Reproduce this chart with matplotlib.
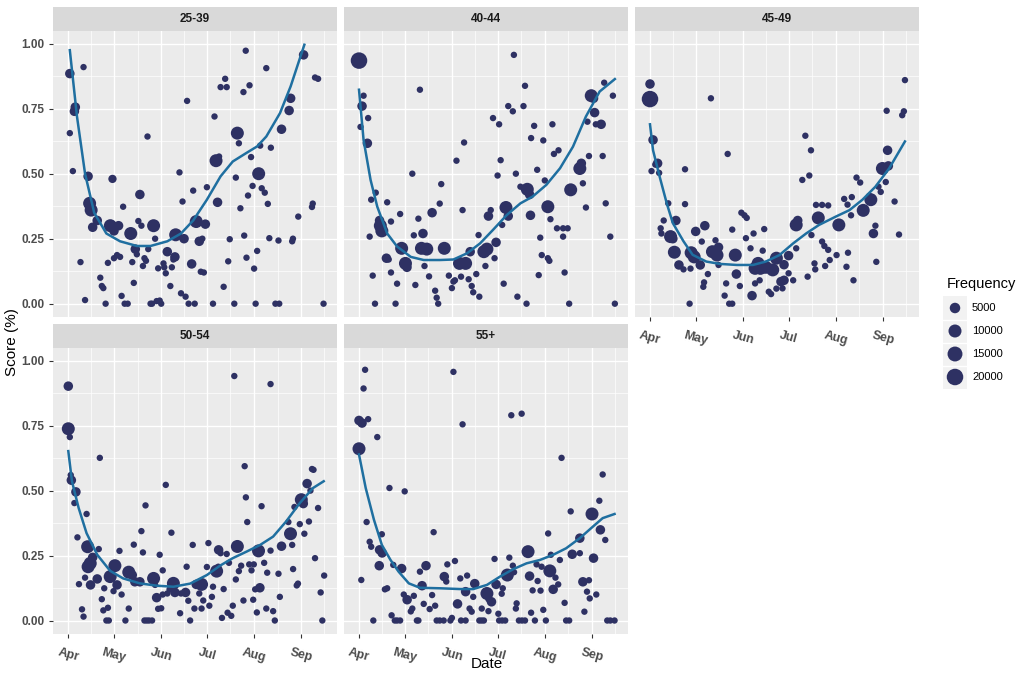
import matplotlib
matplotlib.use("Agg")
import matplotlib.pyplot as plt
import numpy as np

plt.rcParams['font.family'] = ['Liberation Sans', 'DejaVu Sans']

# days since 1 April, score (0-1), frequency
days_2539 = [1, 1, 3, 4, 4.6, 10, 8, 11, 13, 14, 15, 14.5, 16, 19, 21, 22, 23, 24.5, 26, 27.6, 29, 30, 33, 30, 32, 34, 35, 36, 37, 39,
             41, 42, 43, 44, 45, 46, 48, 47, 49, 50, 51, 52, 52.5, 54, 55, 56, 57, 58, 60, 61, 59, 63, 62.5, 64, 65, 67, 68, 69, 70, 70.5,
             73, 74, 75, 76, 77, 78, 79, 83, 81, 82, 84, 86, 88, 87, 89, 90, 91, 95, 96, 97, 99, 98, 100, 103, 104, 102, 105, 106, 109,
             110, 111, 112, 113, 115, 115.5, 116.5, 117, 118, 119, 120, 121, 122, 123, 124, 125, 126, 127, 129, 130, 131, 132, 133,
             136, 138.5, 138, 140, 145, 146, 147, 147.5, 151, 154.5, 160, 160.5, 162, 164, 167.6]
score_2539 = [0.885, 0.656, 0.51, 0.74, 0.756, 0.91, 0.16, 0.014, 0.49, 0.386, 0.36, 0.37, 0.294, 0.32, 0.10, 0.068, 0.06, 0, 0.157, 0.30,
              0.48, 0.28, 0.30, 0.175, 0.187, 0.18, 0.03, 0.373, 0, 0, 0.27, 0.16, 0.08, 0.21, 0.19, 0.318, 0.30, 0.42, 0.145, 0.175,
              0.165, 0.643, 0.21, 0, 0, 0.30, 0.25, 0.01, 0.012, 0, 0.136, 0.14, 0.155, 0.117, 0.2, 0.068, 0.14, 0.17, 0.18, 0.265,
              0.505, 0.04, 0.393, 0.25, 0.027, 0.78, 0, 0, 0.153, 0.435, 0.316, 0.24, 0.25, 0.123, 0.12, 0.306, 0.448, 0, 0.72, 0.55,
              0.566, 0.39, 0.833, 0.865, 0.833, 0.065, 0.163, 0.248, 0, 0.485, 0.656, 0.617, 0.367, 0.814, 0.262, 0.973, 0.177,
              0.416, 0.84, 0.564, 0.453, 0.135, 0, 0.203, 0.50, 0.608, 0.444, 0.427, 0.906, 0.384, 0.252, 0.6, 0, 0, 0.243, 0.671,
              0.743, 0.79, 0.24, 0.25, 0.335, 0.957, 0.372, 0.385, 0.87, 0.865, 0]
freq_2539 = [3500, 500, 500, 3500, 3500, 500, 500, 500, 3500, 10000, 10000, 3500, 3500, 3500, 500, 500, 500, 500, 500, 10000,
             2000, 3500, 3500, 500, 500, 500, 500, 500, 500, 500, 10000, 500, 500, 3500, 500, 500, 500, 3500, 500, 500,
             500, 500, 500, 500, 500, 10000, 500, 500, 500, 500, 500, 500, 500, 500, 3500, 500, 500, 500, 3500, 10000,
             500, 500, 500, 3500, 500, 500, 500, 500, 3500, 500, 10000, 3500, 500, 500, 500, 3500, 500, 500, 500, 10000,
             500, 3500, 500, 500, 500, 500, 500, 500, 500, 500, 10000, 500, 500, 500, 500, 500, 500,
             500, 500, 500, 500, 500, 500, 500, 10000, 500, 500, 500, 500, 500, 500, 500, 500, 500, 500, 3500,
             3500, 3500, 500, 500, 500, 3500, 500, 500, 500, 500, 500]

days_4044 = [0, 3, 2, 6, 1, 5.5, 11, 8, 7, 18.5, 14, 15, 13.5, 21, 9, 10.5, 24, 21, 25, 18, 19.5, 27, 28, 30.5, 31.5, 35, 36, 37, 39, 40,
             41, 44.5, 42, 43, 46, 48, 50, 51, 52, 53, 54, 56, 59, 61, 62, 63, 64, 66, 70, 68, 69, 67, 72, 73, 74, 75, 77, 79, 78.5,
             83, 82, 84, 85, 86.5, 88, 89, 90, 91, 92, 93, 94, 95, 96.5, 98, 98, 101, 101.7, 103, 104, 106, 108, 109, 110.5, 112, 110,
             112.6, 113, 115, 117, 118, 119, 120, 124, 125, 121, 122, 124, 125.7, 127, 128, 131, 130, 134, 137, 134, 135, 138, 139,
             145, 146, 147, 149, 150, 151, 152.5, 154, 154.7, 159, 155.5, 160, 161, 162, 165, 166.7, 168]
score_4044 = [0.935, 0.80, 0.76, 0.714, 0.68, 0.617, 0.427, 0.40, 0.258, 0.39, 0.30, 0.28, 0.32, 0.316, 0.108, 0, 0, 0.12, 0.077, 0.175,
              0.17, 0.345, 0.213, 0.155, 0.14, 0.5, 0.263, 0.072, 0.327, 0.823, 0.213, 0.21, 0.27, 0.145, 0.105, 0.35, 0.05, 0.023,
              0, 0.385, 0.46, 0.213, 0.108, 0.06, 0.085, 0.09, 0.55, 0.155, 0.155, 0.36, 0.62, 0.104, 0.094, 0.2, 0.068, 0.044, 0.114,
              0.027, 0.264, 0.145, 0.2, 0.21, 0.337, 0.36, 0.714, 0.175, 0.236, 0.493, 0.69, 0.552, 0.303, 0.077, 0.37, 0.337, 0.76,
              0.74, 0.957, 0.50, 0.027, 0.45, 0.76, 0.838, 0.44, 0.42, 0, 0.34, 0.637, 0.684, 0.515, 0.11, 0.254, 0.187, 0.175, 0.165,
              0.628, 0.474, 0.373, 0.325, 0.69, 0.576, 0.59, 0.29, 0.29, 0.29, 0.258, 0.12, 0, 0.438, 0.52, 0.54, 0.463, 0.37, 0.70,
              0.568, 0.80, 0.79, 0.735, 0.69, 0.69, 0.568, 0.85, 0.386, 0.258, 0.80, 0]
freq_4044 = [20000, 500, 3500, 500, 500, 3500, 500, 500, 500, 500, 10000, 10000, 3500, 500, 500, 500, 500, 500, 500, 3500,
             500, 500, 10000, 10000, 3500, 500, 500, 500, 500, 500, 10000, 10000, 3500, 500, 500, 3500, 500, 500, 500, 500,
             500, 10000, 500, 500, 500, 500, 500, 10000, 10000, 500, 500, 500, 500, 3500, 500, 500, 500, 500, 500,
             500, 10000, 10000, 3500, 500, 500, 500, 3500, 500, 500, 500, 500, 500, 10000, 3500, 500, 500, 500, 500, 500, 500, 500,
             500, 10000, 3500, 500, 3500, 500, 500, 500, 500, 500, 500, 500, 500, 500, 500, 10000, 500, 500, 500, 500, 500, 500,
             500, 500, 500, 500, 10000, 10000, 3500, 500, 500, 500, 500, 10000, 3500, 3500, 3500, 500, 500, 500, 500, 500, 500, 500]

days_4549 = [0, 0, 2, 5, 3.5, 1, 6, 12, 9, 7, 7.5, 17, 13.5, 15, 16, 19, 22, 23, 23, 26.6, 26, 27, 29, 33, 30, 34, 36, 35.5, 35, 38, 40,
             41, 44, 43, 45, 45, 49, 50, 51, 52, 54, 54, 56, 56.7, 59, 60, 62, 63.5, 63, 66, 67, 68, 69, 72.5, 76, 71, 69, 72, 74,
             75, 78, 79.5, 80.6, 83, 83, 87, 86, 88, 88, 91, 91, 94, 96, 96, 97, 100, 102, 103.5, 104.6, 105.7, 106, 108, 108.5,
             110.5, 109, 113, 117, 113, 114.5, 117, 115, 118, 122.5, 124, 127.5, 129.7, 129, 130, 132, 132.5, 133.6, 135.6, 138,
             140, 145, 144, 148.6, 146.7, 148, 150, 151.5, 152.6, 156.5, 154.8, 156, 155.4, 160.6, 163.5, 165.6, 166.7, 167.4]
score_4549 = [0.787, 0.845, 0.63, 0.54, 0.535, 0.51, 0.503, 0.386, 0.32, 0.29, 0.27, 0.32, 0.258, 0.25, 0.198, 0.149, 0.132, 0.517,
              0.383, 0.135, 0, 0.196, 0.18, 0.149, 0.278, 0.239, 0.30, 0.082, 0.065, 0.114, 0.79, 0.2, 0.187, 0.244, 0.217, 0.149,
              0.031, 0.078, 0.576, 0, 0, 0.285, 0.187, 0.114, 0.068, 0.35, 0.34, 0.33, 0.252, 0.213, 0.031, 0.27, 0.136, 0.136,
              0.14, 0.155, 0.078, 0.09, 0.204, 0.287, 0.046, 0.037, 0.13, 0.175, 0.058, 0.059, 0.085, 0.09, 0.15, 0.185, 0.117,
              0.09, 0.213, 0.303, 0.32, 0.476, 0.646, 0.104, 0.493, 0.59, 0.264, 0.155, 0.132, 0.33, 0.38, 0.38, 0.378, 0.239,
              0.222, 0.207, 0.145, 0.168, 0.187, 0.303, 0.403, 0.381, 0.142, 0.196, 0.34, 0.41, 0.09, 0.485, 0.466, 0.359, 0.40,
              0.415, 0.161, 0.27, 0.30, 0.45, 0.43, 0.52, 0.53, 0.468, 0.59, 0.742, 0.393, 0.266, 0.725, 0.74, 0.86]
freq_4549 = [20000, 3500, 3500, 3500, 500, 500, 500, 500, 500, 500, 500, 3500, 10000, 3500, 10000, 3500, 500, 500, 500, 500,
             500, 10000, 10000, 3500, 3500, 500, 3500, 500, 500, 500, 500, 10000, 10000, 500, 3500, 500, 500, 500, 500, 500,
             500, 500, 10000, 3500, 500, 500, 500, 500, 500, 500, 3500, 500, 10000, 10000, 10000, 10000, 500, 500, 500,
             500, 500, 500, 10000, 10000, 500, 500, 3500, 3500, 3500, 3500, 500, 500, 500, 10000, 3500, 500, 500, 500, 500,
             500, 500, 500, 500, 10000, 500, 500, 500, 500, 500, 500, 500, 500, 500, 10000, 500, 500, 500, 500, 500, 500, 500,
             500, 500, 10000, 10000, 500, 500, 3500, 500, 500, 500, 10000, 3500, 500, 3500, 500, 500, 500, 500, 500, 500]

days_5054 = [0, 0, 1, 2, 1.6, 5, 4, 12, 6, 7, 9, 10, 12.7, 14.4, 13, 16, 11, 14.6, 19, 20, 20.7, 22, 23, 26, 23.6, 25, 26.6, 27.5,
             30.6, 29.7, 32, 33.6, 35, 37.5, 39.7, 42, 43.7, 39.7, 43, 47, 48, 49, 50.7, 50, 51.5, 53, 55, 56, 57, 58, 60, 59, 61,
             62, 64, 62, 65, 67.7, 69, 70, 66.5, 73.4, 74, 77, 77.7, 78.8, 80, 81.7, 82.8, 84, 87.5, 86, 87.5, 88.6, 91, 92, 92.6,
             94.3, 95, 97.4, 98.5, 98.7, 100, 100.9, 102, 104, 104.6, 107, 105.5, 109, 108, 111, 110, 112, 113.5, 115, 115.8,
             116.6, 117.5, 118.8, 120.3, 121.8, 121.4, 123.8, 122.7, 124.9, 126.9, 125.8, 128.6, 130, 130.6, 132.8, 132.8, 134.5,
             135.6, 138, 138.9, 140, 144.5, 145.9, 147, 147.6, 148.5, 150, 150.8, 152, 153, 154.3, 155, 156.8, 158, 159, 160,
             161, 162, 164, 165.7, 166.8, 168]
score_5054 = [0.902, 0.738, 0.706, 0.54, 0.56, 0.495, 0.452, 0.41, 0.32, 0.14, 0.043, 0.015, 0.284, 0.22, 0.207, 0.243, 0.165,
              0.137, 0.16, 0.275, 0.626, 0.082, 0.039, 0.049, 0.124, 0, 0, 0.169, 0.211, 0.113, 0.137, 0.268, 0.1, 0, 0.186, 0.175,
              0.149, 0.046, 0.292, 0.149, 0.344, 0.262, 0.443, 0, 0, 0, 0, 0.162, 0.137, 0.088, 0.253, 0.045, 0.047, 0.193, 0.522,
              0.1, 0.104, 0.338, 0.143, 0.108, 0.12, 0.028, 0.104, 0.108, 0.207, 0.076, 0, 0.291, 0.046, 0.139, 0.139, 0.104,
              0.046, 0.077, 0.206, 0.298, 0.057, 0.091, 0.13, 0.19, 0.207, 0.272, 0.259, 0.01, 0.121, 0.256, 0.03, 0.018, 0.222,
              0.941, 0.057, 0.285, 0.158, 0.19, 0.211, 0.077, 0.594, 0.474, 0.379, 0.216, 0.193, 0.216, 0.08, 0.031, 0.12, 0.268,
              0.44, 0.126, 0.222, 0.046, 0.184, 0.91, 0.269, 0.036, 0, 0.18, 0.091, 0.286, 0.379, 0.334, 0.291, 0.198, 0.437,
              0.135, 0.142, 0.371, 0.465, 0.45, 0.334, 0.527, 0.381, 0.5, 0.583, 0.58, 0.24, 0.433, 0.108, 0, 0.173]
freq_5054 = [3500, 10000, 500, 3500, 500, 3500, 500, 500, 500, 500, 500, 500, 10000, 10000, 10000, 3500, 500, 3500, 3500, 500, 500,
             500, 500, 500, 500, 500, 500, 10000, 10000, 500, 3500, 500, 500, 500, 10000, 3500, 3500, 500, 500, 3500, 500, 500,
             500, 500, 500, 500, 500, 10000, 500, 3500, 500, 500, 500, 500, 500, 500, 500, 500, 10000, 3500, 500, 500, 500, 3500,
             500, 500, 500, 500, 500, 3500, 10000, 500, 500, 500, 500, 500, 500, 500, 500, 10000, 500, 3500, 500, 500, 500, 500,
             500, 500, 500, 500, 500, 10000, 500, 500, 500, 500, 500, 500, 500, 500, 500, 500, 500, 500, 500, 10000, 500,
             3500, 500, 500, 500, 500, 500, 500, 500, 500, 500, 3500, 500, 10000, 500, 500, 500, 500, 500, 500, 10000, 3500, 500,
             3500, 500, 500, 500, 500, 500, 500, 500, 500, 500]

days_55 = [0, 0, 2, 6, 3, 4, 12, 5, 1.5, 7, 8, 9.4, 13.5, 15.2, 15, 13.3, 17, 18.5, 20, 21.4, 22.5, 23.5, 25, 27, 28, 30, 29.4,
           31.6, 34, 35, 36, 38, 39, 40, 41.4, 42.5, 44, 46.4, 48, 49, 50, 51, 53, 55.6, 56, 57.3, 58, 60, 61, 62, 63, 64.7,
           66.5, 68, 67, 70, 70, 71, 72.6, 74, 75, 76, 79, 80.5, 82, 80.6, 84, 85, 87, 85, 89, 90, 91.5, 92, 94, 96, 93.7,
           94.4, 97.4, 98.7, 100, 101, 101.8, 103.5, 103, 105, 107, 109, 106.8, 111, 112, 113, 114, 115.5, 116.6, 117.3, 119.2,
           119.9, 121, 122.7, 124.2, 125.3, 126, 127.5, 129, 130.8, 131.9, 133, 135, 136, 138, 139, 140, 145, 145, 147, 148,
           149.7, 151, 151.5, 153, 154, 155.8, 157.8, 158.5, 160, 161.7, 163, 165, 167.8]
score_55 = [0.661, 0.77, 0.76, 0.775, 0.893, 0.965, 0.706, 0.379, 0.156, 0.303, 0.284, 0, 0.272, 0.26, 0.332, 0.211, 0.12, 0.124,
            0.51, 0.02, 0.214, 0, 0, 0, 0.2, 0.497, 0.1, 0.08, 0.035, 0.046, 0.095, 0, 0, 0.188, 0.134, 0.064, 0.211, 0.044,
            0.098, 0.34, 0.057, 0, 0, 0, 0.169, 0.15, 0.216, 0, 0.01, 0.957, 0.229, 0.064, 0.162, 0.755, 0, 0, 0.111, 0.173,
            0.046, 0.034, 0.091, 0.142, 0, 0, 0, 0.046, 0.104, 0.082, 0.072, 0.036, 0.237, 0.139, 0.026, 0, 0, 0, 0.103, 0.124,
            0.175, 0.242, 0.79, 0.211, 0.186, 0.066, 0.046, 0, 0, 0, 0.796, 0.265, 0.171, 0.03, 0.116, 0, 0.216, 0.152, 0.115,
            0.207, 0.041, 0, 0.335, 0.191, 0.253, 0.12, 0.165, 0.139, 0.233, 0.626, 0.068, 0, 0, 0.42, 0.255, 0.317, 0.259,
            0.149, 0.034, 0.111, 0.155, 0.085, 0.41, 0.24, 0.1, 0.461, 0.349, 0.562, 0.31, 0, 0, 0]
freq_55 = [10000, 3500, 3500, 500, 500, 500, 500, 500, 500, 500, 500, 500, 3500, 3500, 500, 3500, 500, 500, 500, 500, 500, 500,
           500, 500, 3500, 500, 500, 3500, 500, 500, 500, 500, 500, 500, 3500, 500, 3500, 500, 500, 500, 500, 500, 500, 500,
           3500, 500, 500, 500, 500, 500, 500, 3500, 500, 500, 500, 500, 3500, 500, 500, 500, 500, 3500, 500, 500, 500, 500,
           10000, 500, 3500, 500, 500, 3500, 500, 500, 500, 500, 500, 500, 10000, 500, 500, 500, 500, 500, 500, 500, 500, 500,
           500, 10000, 3500, 500, 500, 500, 500, 500, 500, 500, 500, 500, 500, 10000, 500, 3500, 500, 500, 500, 500, 500, 500,
           500, 500, 3500, 3500, 500, 3500, 500, 500, 500, 500, 10000, 3500, 500, 500, 3500, 500, 500, 500, 500, 500]

# loess curves
smooth_d_2539 = [1, 5.7, 11, 17, 25, 34, 45, 54, 65, 74, 82, 91, 100, 108, 117, 124, 130, 139, 146, 155]
smooth_s_2539 = [0.975, 0.72, 0.50, 0.35, 0.27, 0.24, 0.222, 0.222, 0.24, 0.27, 0.32, 0.40, 0.49, 0.547, 0.58, 0.605, 0.643,
                 0.733, 0.836, 0.996]
smooth_d_4044 = [0, 3, 7.6, 12, 18.5, 25, 34, 42.5, 53, 62, 71, 79.5, 88, 97, 106, 114, 123, 132, 140.5, 149, 158, 168]
smooth_s_4044 = [0.823, 0.63, 0.476, 0.373, 0.27, 0.22, 0.18, 0.168, 0.168, 0.17, 0.194, 0.232, 0.284, 0.341, 0.386, 0.412,
                 0.457, 0.521, 0.604, 0.72, 0.816, 0.864]
smooth_d_4549 = [0, 2, 6.5, 11, 15, 22, 28, 37, 46, 57, 67.6, 76, 85, 94, 102.5, 111, 122, 131, 139.5, 148, 157, 167.4]
smooth_s_4549 = [0.69, 0.59, 0.485, 0.386, 0.31, 0.24, 0.188, 0.162, 0.153, 0.149, 0.149, 0.162, 0.187, 0.232, 0.27, 0.303,
                 0.335, 0.36, 0.40, 0.45, 0.52, 0.624]
smooth_d_5054 = [0, 2.4, 6.8, 12, 19, 27.5, 36, 47, 58, 69, 80, 91, 99.6, 108, 117, 126, 134.5, 143, 152, 160.7, 167.7]
smooth_s_5054 = [0.652, 0.536, 0.433, 0.336, 0.253, 0.191, 0.162, 0.143, 0.134, 0.13, 0.142, 0.175, 0.211, 0.24, 0.265, 0.291,
                 0.323, 0.381, 0.452, 0.51, 0.536]
smooth_d_55 = [0, 4.4, 9.8, 15, 20.7, 26, 32.7, 40, 53.4, 66.5, 75, 84, 92.6, 101.4, 110, 118.8, 127.5, 136, 145, 153.7, 160, 167.8]
smooth_s_55 = [0.639, 0.51, 0.388, 0.291, 0.233, 0.188, 0.143, 0.126, 0.124, 0.121, 0.121, 0.137, 0.169, 0.198, 0.22, 0.233,
               0.253, 0.278, 0.317, 0.362, 0.394, 0.41]

groups = ["25-39", "40-44", "45-49", "50-54", "55+"]
month_days = [0, 30, 61, 91, 122, 153]
month_labels = ["Apr", "May", "Jun", "Jul", "Aug", "Sep"]
legend_freq = [5000, 10000, 15000, 20000]

point_col = "#2E3163"
line_col = "#1F6FA0"
W, H = 1024, 683


def px_box(x0, y0, x1, y1):
    return [x0 / W, 1 - y1 / H, (x1 - x0) / W, (y1 - y0) / H]


def msize(f):
    # diameter in pixels ~ linear in sqrt(freq), like ggplot's size scale
    d = 4.5 + 0.085 * np.sqrt(np.asarray(f, dtype=float))
    return (d * 0.72) ** 2


fig = plt.figure(figsize=(W / 100, H / 100), dpi=100)
fig.patch.set_facecolor("white")

col_x = [53.3, 344, 635]
pw = 283.5
rows = [(7.3, 30.7, 316.7), (324.3, 347.7, 633.5)]

data = [
    (days_2539, score_2539, freq_2539, smooth_d_2539, smooth_s_2539),
    (days_4044, score_4044, freq_4044, smooth_d_4044, smooth_s_4044),
    (days_4549, score_4549, freq_4549, smooth_d_4549, smooth_s_4549),
    (days_5054, score_5054, freq_5054, smooth_d_5054, smooth_s_5054),
    (days_55, score_55, freq_55, smooth_d_55, smooth_s_55),
]

for i, g in enumerate(groups):
    r, c = divmod(i, 3)
    x0 = col_x[c]
    st, top, bot = rows[r]
    ax = fig.add_axes(px_box(x0, top, x0 + pw, bot))
    sax = fig.add_axes(px_box(x0, st, x0 + pw, top))
    sax.set_facecolor("#D9D9D9")
    sax.set_xticks([])
    sax.set_yticks([])
    for s in sax.spines.values():
        s.set_visible(False)
    sax.text(0.5, 0.5, g, ha="center", va="center", fontsize=8.5, fontweight="bold", color="#1A1A1A",
             transform=sax.transAxes)

    d, sc, fr, sd, ss = data[i]
    ax.set_facecolor("#EBEBEB")
    ax.set_xlim(-9.85, 176.3)
    ax.set_ylim(-0.05, 1.05)
    ax.set_xticks(month_days)
    ax.set_xticks([15, 45.5, 76, 106.5, 137.5, 168], minor=True)
    ax.set_yticks([0, 0.25, 0.5, 0.75, 1.0])
    ax.set_yticks([0.125, 0.375, 0.625, 0.875], minor=True)
    ax.grid(True, which="major", color="white", linewidth=1.0)
    ax.grid(True, which="minor", color="white", linewidth=0.5)
    ax.set_axisbelow(True)
    for s in ax.spines.values():
        s.set_visible(False)
    ax.tick_params(which="minor", length=0)
    ax.tick_params(which="major", length=3, width=0.8, color="#333333", labelcolor="#4D4D4D", labelsize=8.5)

    ax.scatter(d, sc, s=msize(fr), color=point_col, edgecolors="none", zorder=3)
    ax.plot(sd, ss, color=line_col, linewidth=1.8, zorder=4, solid_joinstyle="round")

    if c == 0:
        ax.set_yticklabels(["0.00", "0.25", "0.50", "0.75", "1.00"], fontweight="bold")
    else:
        ax.tick_params(axis="y", which="major", length=0, labelleft=False)
    if r == 1 or i == 2:
        ax.set_xticklabels(month_labels, rotation=-15, ha="center", fontweight="bold", fontsize=9)
        ax.tick_params(axis="x", which="major", pad=6)
    else:
        ax.tick_params(axis="x", which="major", length=0, labelbottom=False)

fig.text(12 / W, 1 - 342 / H, "Score (%)", rotation=90, ha="center", va="center", fontsize=11, color="black")
fig.text(487 / W, 1 - 664 / H, "Date", ha="center", va="center", fontsize=11, color="black")

# legend
fig.text(947 / W, 1 - 284 / H, "Frequency", ha="left", va="center", fontsize=10.5, color="black")
lax = fig.add_axes(px_box(943, 296, 967, 389))
lax.set_xlim(0, 1)
lax.set_ylim(389, 296)
lax.set_facecolor("#F2F2F2")
for s in lax.spines.values():
    s.set_visible(False)
lax.set_xticks([])
lax.set_yticks([])
key_y = [308, 331, 354, 377]
for ky in key_y[1:]:
    lax.axhline(ky - 11.5, color="white", linewidth=1)
lax.scatter([0.5] * 4, key_y, s=msize(legend_freq), color=point_col, edgecolors="none")
for ky, f in zip(key_y, legend_freq):
    fig.text(972 / W, 1 - ky / H, str(f), ha="left", va="center", fontsize=8, color="black")

fig.savefig("out.png", dpi=100)
